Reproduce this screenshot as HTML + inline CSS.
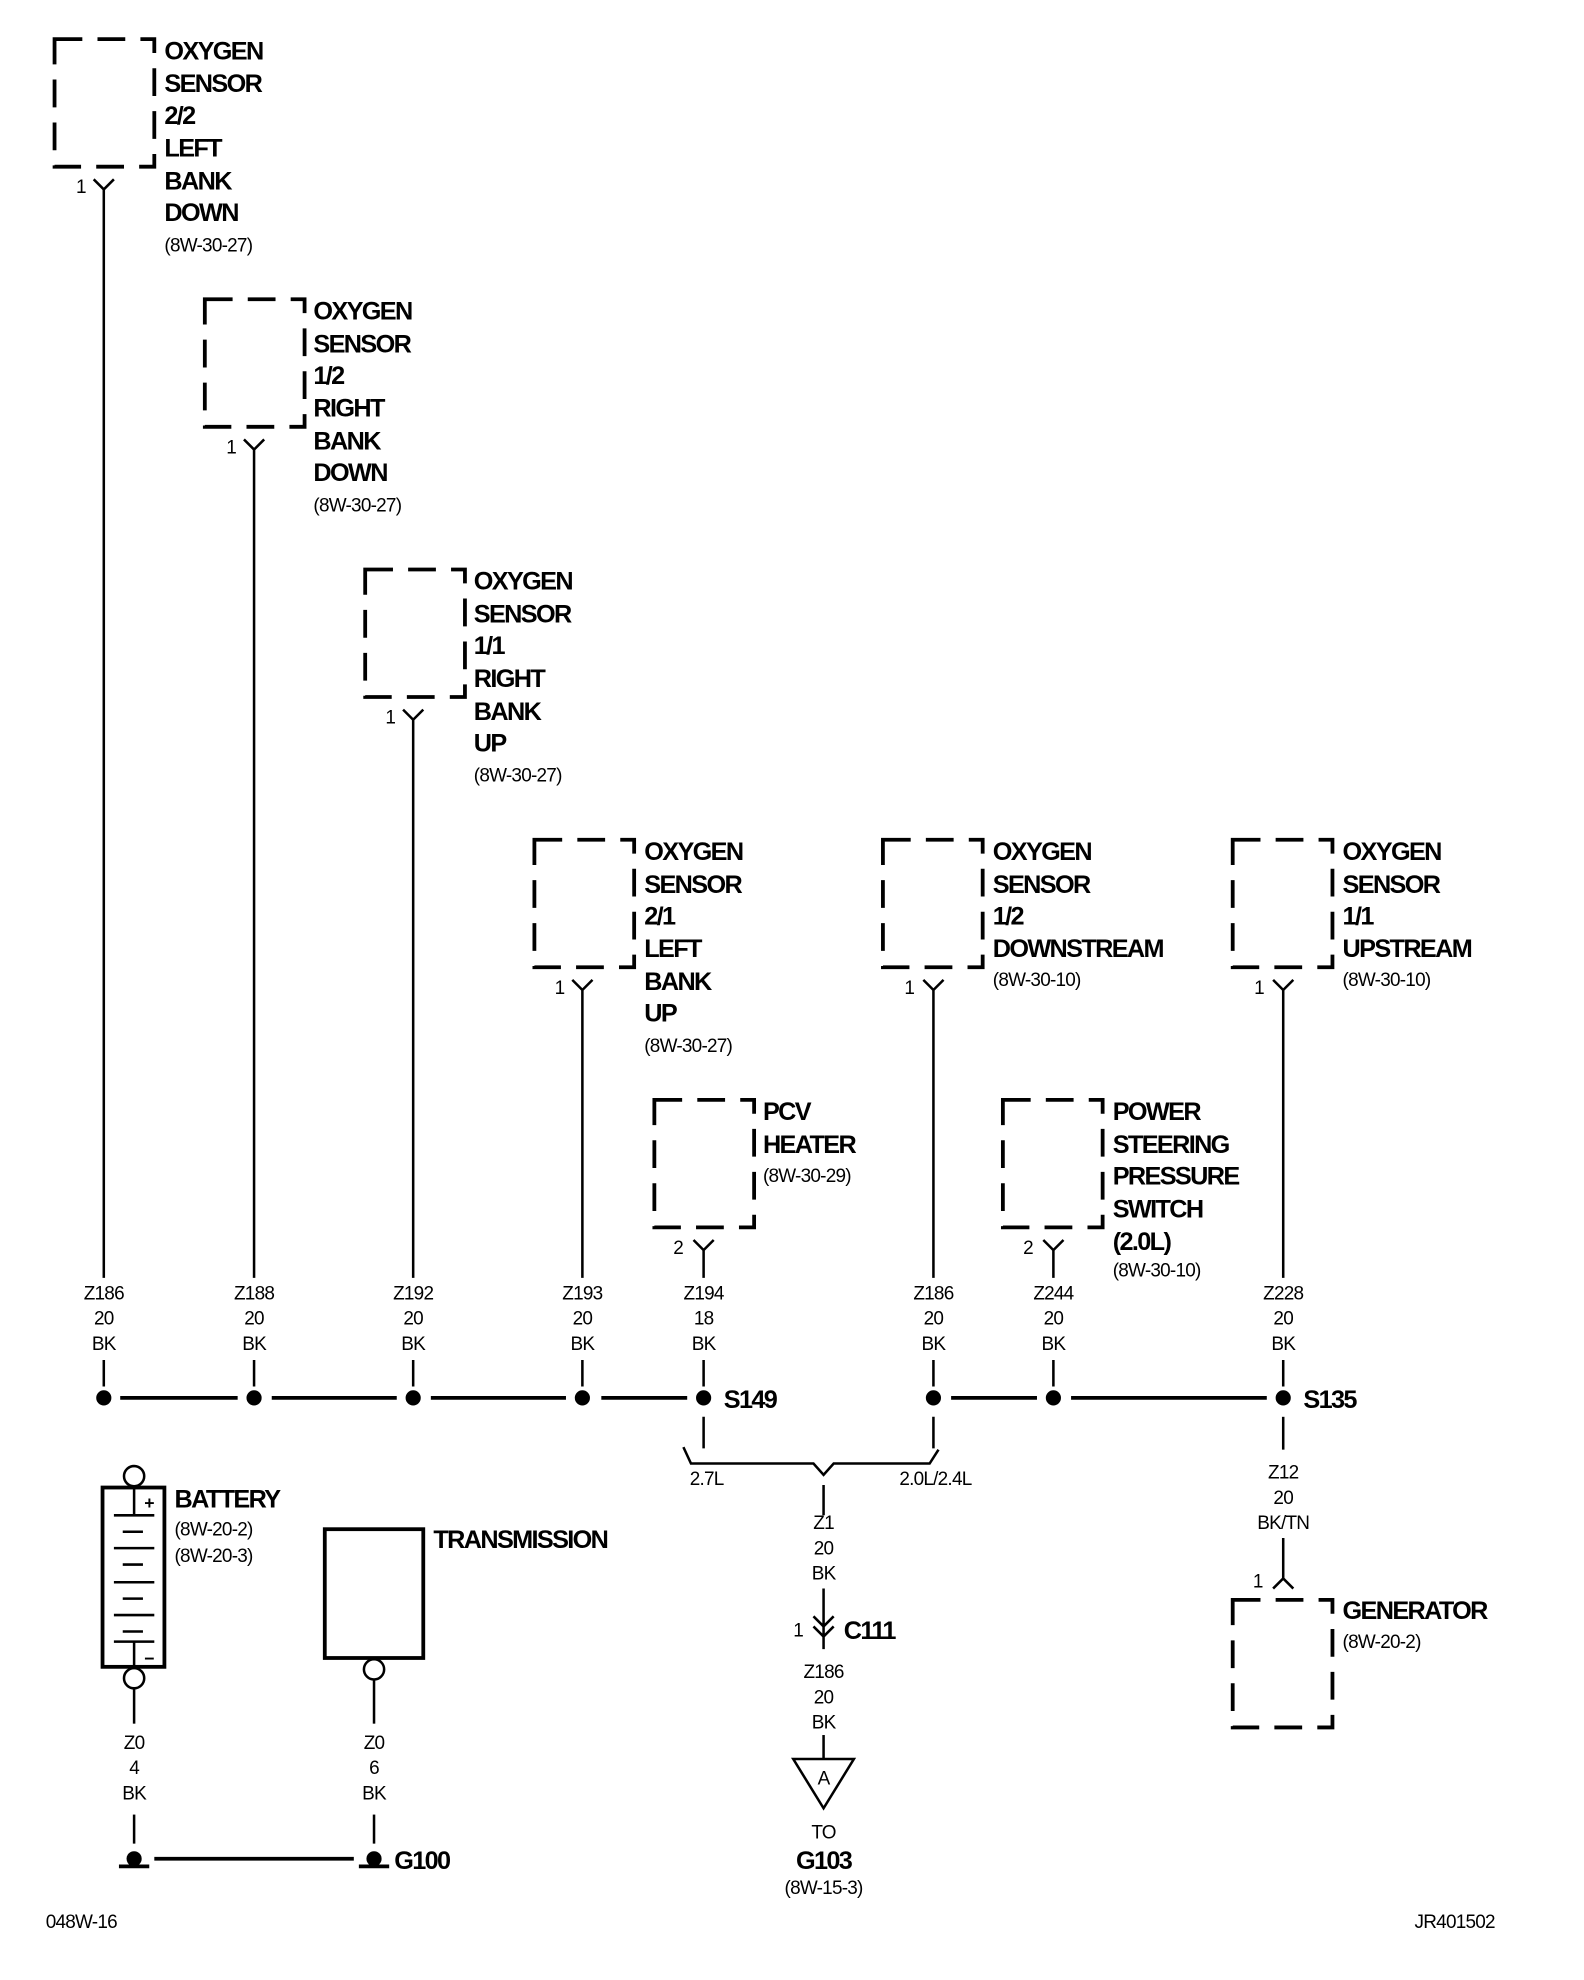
<!DOCTYPE html>
<html><head><meta charset="utf-8"><style>
html,body{margin:0;padding:0;background:#fff}
svg{display:block}
text{font-family:"Liberation Sans Narrow","Liberation Sans",sans-serif;fill:#000}
.b{font-weight:bold;font-size:20px;letter-spacing:-1.3px}
.s{font-size:15px;letter-spacing:-0.6px}
.w{font-size:15px;letter-spacing:-0.6px;text-anchor:middle}
.d{fill:none;stroke:#000;stroke-width:3;stroke-dasharray:22 12}
.l{stroke:#000;stroke-width:2;fill:none}
.t{stroke:#000;stroke-width:3;fill:none}
</style></head><body>
<svg width="1584" height="1980" viewBox="0 0 1254 1568" xmlns="http://www.w3.org/2000/svg">
<rect class="d" x="43" y="31" width="79" height="101"/>
<text class="b" x="130" y="47">OXYGEN</text><text class="b" x="130" y="73">SENSOR</text><text class="b" x="130" y="98">2/2</text><text class="b" x="130" y="124">LEFT</text><text class="b" x="130" y="150">BANK</text><text class="b" x="130" y="175">DOWN</text><text class="s" x="130" y="199">(8W-30-27)</text>
<path class="l" d="M74,142 L82,150 L90,142 M82,150 V1012"/><text class="s" x="60" y="153">1</text>
<rect class="d" x="162" y="237" width="79" height="101"/>
<text class="b" x="248" y="253">OXYGEN</text><text class="b" x="248" y="279">SENSOR</text><text class="b" x="248" y="304">1/2</text><text class="b" x="248" y="330">RIGHT</text><text class="b" x="248" y="356">BANK</text><text class="b" x="248" y="381">DOWN</text><text class="s" x="248" y="405">(8W-30-27)</text>
<path class="l" d="M193,348 L201,356 L209,348 M201,356 V1012"/><text class="s" x="179" y="359">1</text>
<rect class="d" x="289" y="451" width="79" height="101"/>
<text class="b" x="375" y="467">OXYGEN</text><text class="b" x="375" y="493">SENSOR</text><text class="b" x="375" y="518">1/1</text><text class="b" x="375" y="544">RIGHT</text><text class="b" x="375" y="570">BANK</text><text class="b" x="375" y="595">UP</text><text class="s" x="375" y="619">(8W-30-27)</text>
<path class="l" d="M319,562 L327,570 L335,562 M327,570 V1012"/><text class="s" x="305" y="573">1</text>
<rect class="d" x="423" y="665" width="79" height="101"/>
<text class="b" x="510" y="681">OXYGEN</text><text class="b" x="510" y="707">SENSOR</text><text class="b" x="510" y="732">2/1</text><text class="b" x="510" y="758">LEFT</text><text class="b" x="510" y="784">BANK</text><text class="b" x="510" y="809">UP</text><text class="s" x="510" y="833">(8W-30-27)</text>
<path class="l" d="M453,776 L461,784 L469,776 M461,784 V1012"/><text class="s" x="439" y="787">1</text>
<rect class="d" x="699" y="665" width="79" height="101"/>
<text class="b" x="786" y="681">OXYGEN</text><text class="b" x="786" y="707">SENSOR</text><text class="b" x="786" y="732">1/2</text><text class="b" x="786" y="758">DOWNSTREAM</text><text class="s" x="786" y="781">(8W-30-10)</text>
<path class="l" d="M731,776 L739,784 L747,776 M739,784 V1012"/><text class="s" x="716" y="787">1</text>
<rect class="d" x="976" y="665" width="79" height="101"/>
<text class="b" x="1063" y="681">OXYGEN</text><text class="b" x="1063" y="707">SENSOR</text><text class="b" x="1063" y="732">1/1</text><text class="b" x="1063" y="758">UPSTREAM</text><text class="s" x="1063" y="781">(8W-30-10)</text>
<path class="l" d="M1008,776 L1016,784 L1024,776 M1016,784 V1012"/><text class="s" x="993" y="787">1</text>
<rect class="d" x="518" y="871" width="79" height="101"/>
<text class="b" x="604" y="887">PCV</text><text class="b" x="604" y="913">HEATER</text><text class="s" x="604" y="936">(8W-30-29)</text>
<path class="l" d="M549,982 L557,990 L565,982 M557,990 V1012"/><text class="s" x="533" y="993">2</text>
<rect class="d" x="794" y="871" width="79" height="101"/>
<text class="b" x="881" y="887">POWER</text><text class="b" x="881" y="913">STEERING</text><text class="b" x="881" y="938">PRESSURE</text><text class="b" x="881" y="964">SWITCH</text><text class="b" x="881" y="990">(2.0L)</text><text class="s" x="881" y="1011">(8W-30-10)</text>
<path class="l" d="M826,982 L834,990 L842,982 M834,990 V1012"/><text class="s" x="810" y="993">2</text>
<text class="w" x="82" y="1029">Z186</text><text class="w" x="82" y="1049">20</text><text class="w" x="82" y="1069">BK</text>
<text class="w" x="201" y="1029">Z188</text><text class="w" x="201" y="1049">20</text><text class="w" x="201" y="1069">BK</text>
<text class="w" x="327" y="1029">Z192</text><text class="w" x="327" y="1049">20</text><text class="w" x="327" y="1069">BK</text>
<text class="w" x="461" y="1029">Z193</text><text class="w" x="461" y="1049">20</text><text class="w" x="461" y="1069">BK</text>
<text class="w" x="557" y="1029">Z194</text><text class="w" x="557" y="1049">18</text><text class="w" x="557" y="1069">BK</text>
<text class="w" x="739" y="1029">Z186</text><text class="w" x="739" y="1049">20</text><text class="w" x="739" y="1069">BK</text>
<text class="w" x="834" y="1029">Z244</text><text class="w" x="834" y="1049">20</text><text class="w" x="834" y="1069">BK</text>
<text class="w" x="1016" y="1029">Z228</text><text class="w" x="1016" y="1049">20</text><text class="w" x="1016" y="1069">BK</text>
<path class="l" d="M82,1077V1098M201,1077V1098M327,1077V1098M461,1077V1098M557,1077V1098M739,1077V1098M834,1077V1098M1016,1077V1098"/>
<g fill="#000"><circle cx="82" cy="1107" r="6"/><circle cx="201" cy="1107" r="6"/><circle cx="327" cy="1107" r="6"/><circle cx="461" cy="1107" r="6"/><circle cx="557" cy="1107" r="6"/><circle cx="739" cy="1107" r="6"/><circle cx="834" cy="1107" r="6"/><circle cx="1016" cy="1107" r="6"/></g>
<path class="t" d="M95,1107H188M215,1107H314M341,1107H448M476,1107H544M753,1107H821M848,1107H1003"/>
<text class="b" x="573" y="1115">S149</text><text class="b" x="1032" y="1115">S135</text>
<path class="l" d="M557,1122V1147M739,1122V1147M541,1146 L547,1159 H644 L652,1168 L660,1159 H736 L743,1148 M652,1176V1200"/>
<text class="s" x="546" y="1176">2.7L</text><text class="s" x="712" y="1176">2.0L/2.4L</text>
<text class="w" x="652" y="1211">Z1</text><text class="w" x="652" y="1231">20</text><text class="w" x="652" y="1251">BK</text>
<path class="l" d="M652,1258V1300 M644,1280 L652,1288 L660,1280 M644,1288 L652,1296 L660,1288 M652,1300V1306"/>
<text class="s" x="628" y="1296">1</text><text class="b" x="668" y="1298">C111</text>
<text class="w" x="652" y="1329">Z186</text><text class="w" x="652" y="1349">20</text><text class="w" x="652" y="1369">BK</text>
<path class="l" d="M652,1374V1393"/>
<path class="l" d="M628,1393H676L652,1432Z"/><text class="w" x="652" y="1413">A</text>
<text class="w" x="652" y="1456">TO</text>
<text class="b" x="652" y="1480" text-anchor="middle">G103</text>
<text class="w" x="652" y="1500">(8W-15-3)</text>
<path class="l" d="M1016,1122V1148"/>
<text class="w" x="1016" y="1171">Z12</text><text class="w" x="1016" y="1191">20</text><text class="w" x="1016" y="1211">BK/TN</text>
<path class="l" d="M1016,1218V1250 M1008,1258 L1016,1250 L1024,1258"/>
<text class="s" x="992" y="1257">1</text>
<rect class="d" x="976" y="1267" width="79" height="101"/>
<text class="b" x="1063" y="1282">GENERATOR</text><text class="s" x="1063" y="1305">(8W-20-2)</text>
<rect x="81" y="1178" width="49" height="142" fill="none" stroke="#000" stroke-width="3"/>
<circle cx="106" cy="1169" r="8" fill="#fff" stroke="#000" stroke-width="2"/>
<circle cx="106" cy="1329" r="8" fill="#fff" stroke="#000" stroke-width="2"/>
<path class="l" d="M106,1178V1200 M90,1200H122 M97,1213H113 M90,1226H122 M97,1239H113 M90,1253H122 M97,1266H113 M90,1279H122 M97,1292H113 M90,1300H122 M106,1300V1320"/>
<text x="114" y="1195" style="font-size:14px;font-weight:bold">+</text>
<text x="114" y="1318" style="font-size:14px;font-weight:bold">−</text>
<text class="b" x="138" y="1194">BATTERY</text><text class="s" x="138" y="1216">(8W-20-2)</text><text class="s" x="138" y="1237">(8W-20-3)</text>
<path class="l" d="M106,1337V1365"/>
<text class="w" x="106" y="1385">Z0</text><text class="w" x="106" y="1405">4</text><text class="w" x="106" y="1425">BK</text>
<path class="l" d="M106,1437V1460"/>
<rect x="257" y="1211" width="78" height="102" fill="none" stroke="#000" stroke-width="3"/>
<text class="b" x="343" y="1226">TRANSMISSION</text>
<circle cx="296" cy="1322" r="8" fill="#fff" stroke="#000" stroke-width="2"/>
<path class="l" d="M296,1330V1365"/>
<text class="w" x="296" y="1385">Z0</text><text class="w" x="296" y="1405">6</text><text class="w" x="296" y="1425">BK</text>
<path class="l" d="M296,1437V1460"/>
<circle cx="106" cy="1472" r="6" fill="#000"/><path class="t" d="M94,1478H118"/>
<circle cx="296" cy="1472" r="6" fill="#000"/><path class="t" d="M284,1478H308"/>
<path class="t" d="M122,1472H280"/>
<text class="b" x="312" y="1480">G100</text>
<text class="s" x="36" y="1527">048W-16</text>
<text class="s" x="1120" y="1527">JR401502</text>
</svg>
</body></html>
